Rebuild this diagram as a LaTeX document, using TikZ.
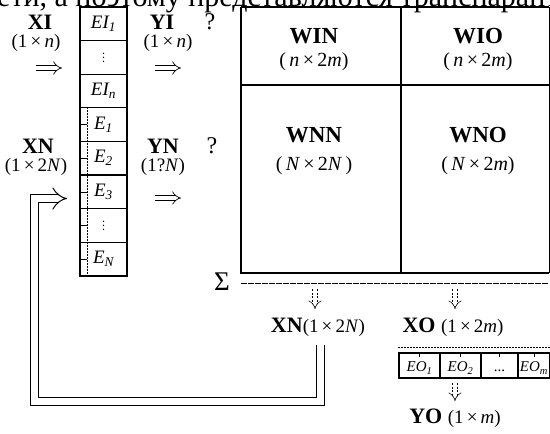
\documentclass[tikz,border=0pt]{standalone}
\usepackage{fontspec}
\setmainfont{Liberation Serif}
\usetikzlibrary{arrows.meta}
\begin{document}
\begin{tikzpicture}[x=1pt,y=-1pt,
  lbl/.style={font=\fontsize{22}{24}\selectfont\bfseries, inner sep=0pt},
  dim/.style={font=\fontsize{19}{21}\selectfont, inner sep=0pt},
  cell/.style={draw, line width=1.1pt, minimum width=47pt, minimum height=33.6pt, inner sep=0pt},
  celltxt/.style={font=\fontsize{19}{20}\selectfont\itshape, inner sep=0pt},
  eo/.style={draw, line width=1.1pt, minimum height=25pt, inner sep=0pt},
  eotxt/.style={font=\fontsize{15}{16}\selectfont\itshape, inner sep=0pt},
  dbl/.style={double, double distance=4pt, line width=0.7pt, -{Implies}},
  ddn/.style={double, double distance=4pt, line width=0.6pt, dash pattern=on 2pt off 1.5pt, -{Implies}},
  fb/.style={double, double distance=7pt, line width=1pt, -{Implies}},
  thin dash/.style={line width=0.5pt, dash pattern=on 1.5pt off 1.5pt}]
\useasboundingbox (0,0) rectangle (550,434);
% cut-off text line at top
\node[anchor=base west, font=\fontsize{30}{32}\selectfont, inner sep=0pt] (topline) at (-3,6) {ети, а поэтому представляются транспарантом};
% left column
\foreach \n/\t [count=\k from 0] in {EI1/{EI\textsubscript{1}}, d1/{}, EIn/{EI\textsubscript{\itshape n}}, E1/{E\textsubscript{1}}, E2/{E\textsubscript{2}}, E3/{E\textsubscript{3}}, d2/{}, EN/{E\textsubscript{\itshape N}}}
  {\node[cell] (\n) at (103.5, 7+33.6*\k+16.8) {};
   \node[celltxt] (\n t) at (\n) {\t};}
\foreach \n in {d1,d2}
  \foreach \dy in {-4,0,4}
    \fill ([yshift=\dy]\n.center) circle (0.8);
\draw[line width=1.6pt] (EI1.north west) rectangle (EN.south east);
\draw[thin dash] ([xshift=8pt]E1.north west) -- ([xshift=8pt]EN.south west);
\foreach \n in {E1,E2,E3,d2,EN}
  \draw[line width=0.6pt] (\n.west) -- ++(8,0);
% left labels
\node[lbl] (XI) at (40,22) {XI};
\node[dim] (XIdim) at (36,43) {(1\,×\,\textit{n})};
\coordinate (xia) at (36,68);
\coordinate (xib) at (62,68);
\draw[dbl] (xia) -- (xib);
\node[lbl] (YI) at (162,22) {YI};
\node[dim] (YIdim) at (168,43) {(1\,×\,\textit{n})};
\coordinate (yia) at (155,68);
\coordinate (yib) at (181,68);
\draw[dbl] (yia) -- (yib);
\node[font=\fontsize{24}{26}\selectfont, inner sep=0pt] (q1) at (210,22) {?};
\node[lbl] (XN) at (38,146) {XN};
\node[dim] (XNdim) at (36,167) {(1\,×\,2\textit{N})};
\node[lbl] (YN) at (163,146) {YN};
\node[dim] (YNdim) at (163,167) {(1?\textit{N})};
\node[font=\fontsize{24}{26}\selectfont, inner sep=0pt] (q2) at (212,146) {?};
\coordinate (yna) at (155,198);
\coordinate (ynb) at (181,198);
\draw[dbl] (yna) -- (ynb);
% matrix
\draw[line width=1.6pt] (241,7) -- (549,7) (241,7) -- (241,273) -- (549,273);
\draw[line width=0.6pt] (549,7) -- (549,273);
\draw[line width=1.4pt] (401,7) -- (401,273);
\draw[line width=1.4pt] (241,85) -- (549,85);
\node[lbl, font=\fontsize{23}{24}\selectfont\bfseries] (WIN) at (314,36) {WIN};
\node[dim, font=\fontsize{20}{22}\selectfont] (WINd) at (314,62) {(\,\textit{n}\,×\,2\textit{m})};
\node[lbl, font=\fontsize{23}{24}\selectfont\bfseries] (WIO) at (478,36) {WIO};
\node[dim, font=\fontsize{20}{22}\selectfont] (WIOd) at (478,62) {(\,\textit{n}\,×\,2\textit{m})};
\node[lbl, font=\fontsize{23}{24}\selectfont\bfseries] (WNN) at (314,135) {WNN};
\node[dim, font=\fontsize{20}{22}\selectfont] (WNNd) at (314,166) {(\,\textit{N}\,×\,2\textit{N}\,)};
\node[lbl, font=\fontsize{23}{24}\selectfont\bfseries] (WNO) at (478,135) {WNO};
\node[dim, font=\fontsize{20}{22}\selectfont] (WNOd) at (478,166) {(\,\textit{N}\,×\,2\textit{m})};
% sum line
\node[font=\fontsize{27}{28}\selectfont, inner sep=0pt] (sig) at (222,282) {Σ};
\draw[line width=0.8pt, dash pattern=on 6pt off 1pt] (241,283) -- (549,283);
\coordinate (s1a) at (315,289);
\coordinate (s1b) at (315,309);
\draw[ddn] (s1a) -- (s1b);
\coordinate (s2a) at (455,289);
\coordinate (s2b) at (455,309);
\draw[ddn] (s2a) -- (s2b);
\node[inner sep=0pt] (XNo) at (318,327) {\fontsize{22}{24}\selectfont\bfseries XN\fontsize{19}{21}\selectfont\mdseries(1\,×\,2\textit{N})};
\node[inner sep=0pt] (XO) at (453,327) {\fontsize{22}{24}\selectfont\bfseries XO \fontsize{19}{21}\selectfont\mdseries(1\,×\,2\textit{m})};
% EO boxes
\node[eo, minimum width=41pt] (EO1) at (419.5,365.5) {};
\node[eo, minimum width=41pt] (EO2) at (460.5,365.5) {};
\node[eo, minimum width=37pt] (EOd) at (499.5,365.5) {};
\node[eo, minimum width=32pt] (EOm) at (534,365.5) {};
\node[eotxt] (EO1t) at (419.5,368) {EO\textsubscript{1}};
\node[eotxt] (EO2t) at (460.5,368) {EO\textsubscript{2}};
\node[font=\fontsize{15}{15}\selectfont, inner sep=0pt] (EOdots) at (499.5,371) {...};
\node[eotxt] (EOmt) at (534,368) {EO\textsubscript{\itshape m}};
\draw[line width=1.6pt] (EO1.north west) rectangle (EOm.south east);
\draw[thin dash] ([yshift=5pt]EO1.north west) -- ([yshift=5pt]EOm.north east);
\foreach \n in {EO1,EO2,EOd,EOm}
  \draw[line width=0.6pt] (\n.north) -- ++(0,5);
\coordinate (s3a) at (455,383);
\coordinate (s3b) at (455,401);
\draw[ddn] (s3a) -- (s3b);
\node[inner sep=0pt] (YO) at (455,418) {\fontsize{22}{24}\selectfont\bfseries YO \fontsize{19}{21}\selectfont\mdseries(1\,×\,\textit{m})};
% feedback
\coordinate (fbs) at (320.5,345);
\coordinate (fbe) at (67,198.5);
\draw[fb] (fbs) -- (320.5,401) -- (34.5,401) -- (34.5,198.5) -- (fbe);
\end{tikzpicture}
\end{document}
